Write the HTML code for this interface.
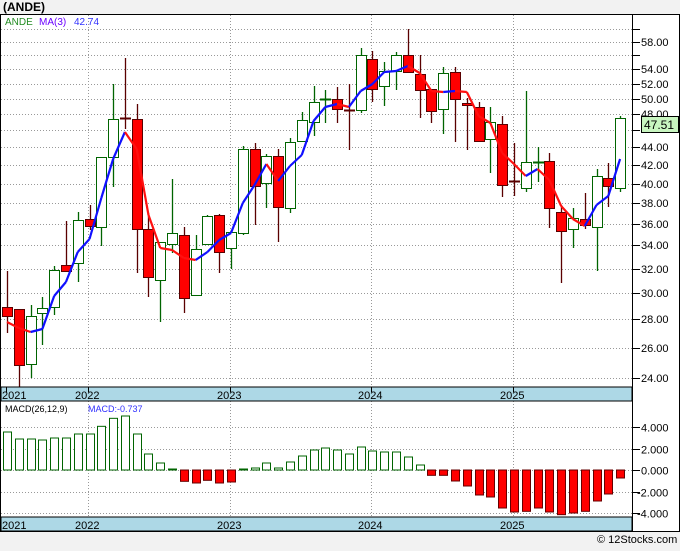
<!DOCTYPE html>
<html><head><meta charset="utf-8"><style>
body{margin:0;background:#f2f2f2;width:680px;height:546px;overflow:hidden;font-family:"Liberation Sans",sans-serif}
</style></head><body>
<svg id="s" width="680" height="546" xmlns="http://www.w3.org/2000/svg" font-family="Liberation Sans, sans-serif">
<rect x="0" y="0" width="680" height="546" fill="#f2f2f2"/>
<text x="3" y="11" font-size="12" font-weight="bold" fill="#000">(ANDE)</text>
<rect x="0.5" y="14.5" width="679" height="517" fill="#fff" stroke="#000"/>
<g id="g"></g>
</svg>
<script>
var g=document.getElementById('g'),h='';
function ln(x1,y1,x2,y2,c,w,d){h+='<line x1="'+x1+'" y1="'+y1+'" x2="'+x2+'" y2="'+y2+'" stroke="'+c+'" stroke-width="'+(w||1)+'"'+(d?' stroke-dasharray="'+d+'"':'')+'/>';}
function rc(x,y,w,hh,f,s){h+='<rect x="'+x+'" y="'+y+'" width="'+w+'" height="'+hh+'" fill="'+f+'" stroke="'+s+'"/>';}
function tx(x,y,t,c,sz){h+='<text x="'+x+'" y="'+y+'" font-size="'+(sz||11)+'" fill="'+(c||'#000')+'">'+t+'</text>';}
function py(p){return 42+(Math.log(58)-Math.log(p))*381;}
// price grid
for(var p=24;p<=60;p+=2){var y=Math.round(py(p))+0.5;ln(1,y,632,y,'#999',1,'1,2');ln(632,y,640,y,'#000');}
[58,54,52,50,48,44,42,40,38,36,34,32,30,28,26,24].forEach(function(p){tx(641,Math.round(py(p))+4,p.toFixed(2),'#000',11);});
// year grid
var yrs=[[6,'2021'],[88,'2022'],[230,'2023'],[371,'2024'],[513,'2025']];
yrs.slice(1).forEach(function(a){ln(a[0]+.5,15,a[0]+.5,387,'#999',1,'1,2');ln(a[0]+.5,401,a[0]+.5,517,'#999',1,'1,2');});
ln(632.5,14,632.5,531,'#000');
// candles [hi,lo,top,bot,color]
var C=[[271,333,307,316,'r'],[309,387,309,365,'r'],[305,378,316,364,'g'],[297,345,308,313,'g'],[266,315,270,307,'g'],[221,271,265,271,'r'],[212,282,220,263,'g'],[205,230,219,226,'r'],[157,246,157,227,'g'],[84,187,119,157,'g'],[58,129,118,118,'r'],[104,273,119,229,'r'],[213,297,229,277,'r'],[242,322,242,280,'g'],[179,253,233,244,'g'],[227,313,235,298,'r'],[235,295,249,295,'g'],[215,244,216,244,'g'],[214,273,215,252,'r'],[230,269,232,248,'g'],[146,235,149,233,'g'],[143,225,149,186,'r'],[154,208,156,183,'g'],[149,242,156,207,'r'],[138,213,142,208,'g'],[112,141,120,141,'g'],[86,136,102,122,'g'],[90,123,99,99,'g'],[87,123,99,109,'r'],[84,150,110,110,'r'],[48,113,55,110,'g'],[51,102,59,89,'r'],[62,106,71,86,'g'],[52,90,55,71,'g'],[29,73,55,72,'r'],[55,118,74,90,'r'],[89,123,89,111,'r'],[67,134,73,109,'g'],[67,142,72,99,'r'],[98,150,103,105,'r'],[102,141,107,141,'r'],[107,173,122,139,'g'],[116,197,124,185,'r'],[143,196,181,181,'r'],[91,192,162,188,'g'],[147,182,162,162,'g'],[153,228,161,208,'r'],[205,283,212,231,'r'],[208,248,218,229,'g'],[193,229,219,225,'r'],[169,271,176,227,'g'],[163,207,178,186,'r'],[116,192,118,188,'g']];
function cx(i){return 7+i*11.79;}
C.forEach(function(c,i){var x=Math.round(cx(i));var col=c[4]=='g'?'#006400':'#5a0000';
ln(x+.5,c[0],x+.5,c[1],col,1.3);
if(c[3]-c[2]<2){ln(x-5,c[2]+.5,x+6,c[2]+.5,col,2);}
else rc(x-4.5,c[2]+.5,10,c[3]-c[2],c[4]=='g'?'#fff':'#f00',col);});
// MA
var M=[322,328,332,329,296,282,252,239,198,159,132,149,215,248,250,258,260,252,240,233,203,185,164,181,166,155,121,107,104,107,91,84,72,71,66,73,91,92,91,92,116,123,153,164,176,169,180,206,219,226,205,196,159];
for(var i=1;i<M.length;i++){ln(cx(i-1),M[i-1],cx(i),M[i],M[i]<=M[i-1]?'#1010ff':'#ff1010',2.2);}
// price tag
rc(641.5,116.5,37,16,'#c8f5c0','#000');tx(644,129,'47.51','#000',12);
// legend
tx(5,25,'ANDE','#228b22',10);tx(39,25,'MA(3)','#6a00ff',10);tx(74,25,'42.74','#3030ff',10);
// strips
rc(1,387,631,14,'#add8e6','#000');rc(1,517,631,14,'#add8e6','#000');
yrs.forEach(function(a){var x=a[0]==6?2:a[0]-13;tx(x,399,a[1],'#000',11);tx(x,529,a[1],'#000',11);ln(a[0]+.5,387,a[0]+.5,392,'#000');});
// MACD
var z=470,u=10.75;
[4,2,0,-2,-4].forEach(function(v){var y=Math.round(z-v*u)+.5;ln(1,y,632,y,'#999',1,'1,2');ln(632,y,640,y,'#000');tx(v<0?637:641,y+4,(v<0?'-':'')+Math.abs(v).toFixed(3),'#000',11);});
var B=[112,133,133,136,130,130,118,118,95,71,64,118,178,205,223,260,265,257,265,262,223,220,205,220,202,184,166,160,166,178,157,169,172,172,187,211,242,242,259,274,301,307,340,352,350,340,352,360,355,350,319,298,250];
B.forEach(function(b,i){var v=(226-b)/32.25;var x=Math.round(cx(i));var y1=z-v*u;
if(v>=0)rc(x-3.5,y1,8,z-y1,'#fff','#006400');else rc(x-3.5,z,8,y1-z,'#f00','#600');});
tx(5,412,'MACD(26,12,9)','#000',9);tx(88,412,'MACD:-0.737','#3030ff',9);
tx(597,543,'© 12Stocks.com','#000',11);
g.innerHTML=h;
</script>
</body></html>
